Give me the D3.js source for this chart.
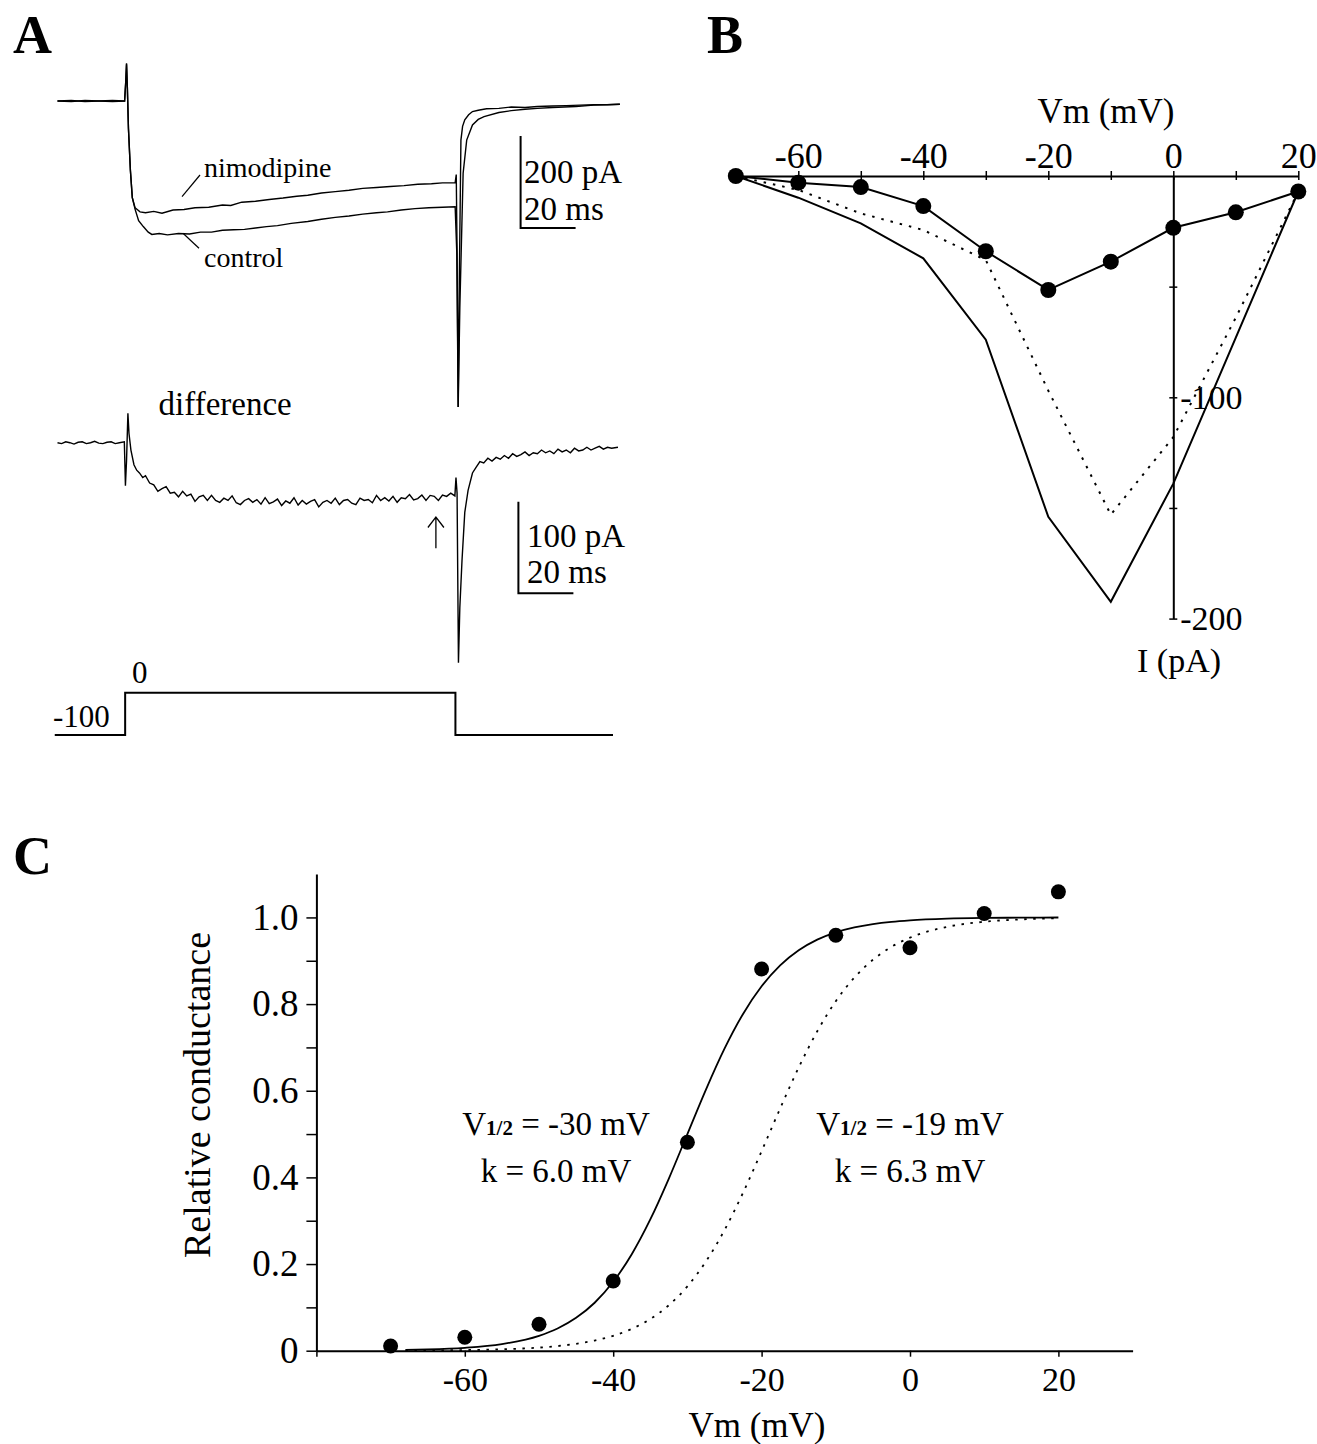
<!DOCTYPE html>
<html>
<head>
<meta charset="utf-8">
<script src="https://cdn.jsdelivr.net/npm/d3@7"></script>
<style>
  body { margin: 0; background: #fff; }
  svg text { font-family: "Liberation Serif", "Times New Roman", serif; fill: #000; }
</style>
</head>
<body>
<svg id="fig" width="1317" height="1444"></svg>
<script>
// ---- panel A : current traces [time ms, current pA] ----
var nimoTrace = [[0,0],[5,1],[10,-1],[15,0],[20,1],[24.4,0],[24.8,40],[25.1,82],[25.4,30],[25.8,-60],[26.5,-150],[27.2,-210],[28.2,-232],[30,-241],[32,-243],[35,-240],[38,-244],[42,-237],[46,-236],[50,-232],[55,-231],[60,-226],[63,-227],[67,-220],[72,-218],[77,-214],[82,-211],[87,-207],[91,-205],[96,-200],[101,-197],[106,-194],[111,-190],[116,-188],[121,-186],[126,-184],[131,-181],[136,-180],[140,-178],[144.6,-178],[145.0,-160],[145.3,-330],[145.7,-665],[146.1,-400],[146.7,-85],[147.3,-55],[148.1,-41],[149.5,-30],[150.9,-23],[153,-20],[156,-17],[160.5,-16],[165,-13],[170,-14],[174.5,-12],[180,-11],[185,-10],[190,-9],[195,-8],[200,-8],[204.5,-7]];

var ctrlTrace = [[0,0],[5,-1],[10,1],[15,0],[20,-1],[24.4,0],[24.8,40],[25.1,80],[25.4,30],[25.8,-60],[26.5,-150],[27.2,-210],[28.2,-235],[29.5,-260],[31.2,-273],[33,-285],[34.3,-290],[37,-288],[40,-291],[44,-288],[48,-289],[52,-285],[56,-285],[60,-281],[64,-280],[68,-279],[72,-276],[76,-273],[80,-271],[85,-266],[91,-262],[96,-257],[101,-253],[106,-250],[111,-246],[116,-243],[120,-241],[125,-237],[130,-234],[135,-232],[140,-231],[144.6,-230],[145.2,-330],[145.7,-665],[146.3,-450],[147.5,-157],[148.8,-85],[150.9,-52],[153,-40],[155.1,-34],[160.5,-25],[165,-21],[170,-18],[174.5,-16],[180,-14],[188.5,-12],[195,-9],[204.5,-7]];

var diffTrace = [[0,0],[1.5,-1],[3,1],[4.5,0],[6,-1.5],[7.5,0.5],[9,1],[10.5,-1],[12,0],[13.5,1.5],[15,-0.5],[16.5,-1],[18,0.5],[19.5,1],[21,-1],[22.5,0],[24.3,1],[24.7,-47],[25.1,-20],[25.6,32],[26.0,10],[26.7,-8],[27.8,-24],[28.8,-30],[29.8,-33],[31,-38],[32,-36],[33.5,-44],[35,-46],[36.5,-53],[38,-50],[39.5,-48],[41,-55],[42.5,-54],[44,-59],[45.5,-53],[47,-58],[48.5,-56],[50,-64],[51.5,-59],[53,-57.5],[54.5,-63],[56,-57.5],[57.5,-63],[59,-65],[60.5,-60.5],[62,-63],[63.5,-58],[65,-65.5],[66.5,-67.5],[68,-63],[69.5,-61],[71,-65],[72.5,-62],[74,-67],[75.5,-60],[77,-66.5],[78.5,-64.5],[80,-61.5],[81.5,-68.5],[83,-63.5],[84.5,-66],[86,-60],[87.5,-68],[89,-63],[90.5,-67],[92,-64],[93.5,-62],[95,-70],[96.5,-65],[98,-63],[99.5,-66],[101,-60.5],[102.5,-67.5],[104,-63],[105.5,-62],[107,-66],[108.5,-67.5],[110,-60.5],[111.5,-63],[113,-62],[114.5,-65.5],[116,-57.5],[117.5,-63],[119,-60],[120.5,-63.5],[122,-58.5],[123.5,-65],[125,-60],[126.5,-61],[128,-56.5],[129.5,-62.5],[131,-61],[132.5,-57],[134,-63],[135.5,-57.5],[137,-58.5],[138.5,-63],[140,-57],[141.5,-58.5],[143,-55],[144.5,-58],[144.9,-38],[145.3,-55],[145.8,-240],[146.3,-180],[147.1,-128],[148.1,-76],[149.3,-52],[150.9,-33],[152.2,-27],[153.6,-20.5],[155,-22],[156.5,-17],[158,-20],[159.5,-16],[161,-18],[162.5,-14],[164,-17],[165.5,-12],[167,-15],[168.5,-13],[170,-10],[171.5,-14],[173,-11],[174.5,-12],[176,-8],[177.5,-11],[179,-9],[180.5,-12],[182,-7],[183.5,-10],[185,-8],[186.5,-11],[188,-6],[189.5,-9],[191,-8],[192.5,-5],[194,-8],[195.5,-6],[197,-4],[198.5,-7],[200,-5],[201.5,-6],[203.8,-5]];

// voltage protocol [time ms, mV]
var protocol = [[-1,-100],[24.6,-100],[24.6,0],[144.7,0],[144.7,-100],[202,-100]];

// ---- panel B : I-V relation ----
var vmB = [-70,-60,-50,-40,-30,-20,-10,0,10,20];
var ivDots = [0,-3,-5,-13.6,-34,-51.5,-38.7,-23.4,-16.4,-7];
var ivSolid = [0,-9.8,-21.4,-37.2,-74,-154,-192.4,-139,-73,-7];
var ivDotted = [0,-6.3,-16.9,-24.4,-38,-97,-153,-118,-64,-7];
var xTicksB = [-70,-60,-50,-40,-30,-20,-10,0,10,20];
var yTicksB = [-50,-100,-150,-200];

// ---- panel C : activation ----
var vmC = [-70,-60,-50,-40,-30,-20,-10,0,10,20];
var gRel = [0.011,0.031,0.061,0.161,0.481,0.881,0.959,0.930,1.009,1.059];
var fitV = [-68,-65,-60,-55,-50,-47.5,-45,-42.5,-40,-37.5,-35,-32.5,-30,-27.5,-25,-22.5,-20,-17.5,-15,-12.5,-10,-7.5,-5,-2.5,0,5,10,15,20];
var fitSolid = [0.0018,0.0029,0.0067,0.0153,0.0344,0.0513,0.0759,0.1107,0.159,0.2227,0.3029,0.3973,0.5,0.6027,0.6971,0.7773,0.841,0.8893,0.9241,0.9487,0.9656,0.977,0.9847,0.9899,0.9933,0.9971,0.9988,0.9995,0.9998];
var fitDotted = [0.0004,0.0007,0.0015,0.0033,0.0072,0.0107,0.0159,0.0234,0.0344,0.0504,0.0731,0.105,0.1486,0.206,0.2784,0.3645,0.4604,0.5592,0.6536,0.7372,0.8067,0.8612,0.9022,0.9321,0.9533,0.9783,0.99,0.9955,0.998];
var xTicksC = [-80,-60,-40,-20,0,20];
var yTicksC = [0,0.1,0.2,0.3,0.4,0.5,0.6,0.7,0.8,0.9,1.0];

var serif = '"Liberation Serif", "Times New Roman", serif';
var svg = d3.select("#fig");
svg.append("rect").attr("width", 1317).attr("height", 1444).attr("fill", "#fff");

// panel letters
[["A", 13, 53], ["B", 707, 53], ["C", 13, 874]].forEach(function(p) {
  svg.append("text").attr("x", p[1]).attr("y", p[2])
    .attr("font-size", 54).attr("font-weight", "bold").text(p[0]);
});

// =========== A ===========
var tx = d3.scaleLinear().domain([0, 205]).range([57.5, 621.25]);
var iTop = d3.scaleLinear().domain([0, -200]).range([101, 193]);
var iDiff = d3.scaleLinear().domain([0, -100]).range([442.7, 534.4]);
var vProt = d3.scaleLinear().domain([-100, 0]).range([735, 692.7]);

var lineTop = d3.line().x(function(d){ return tx(d[0]); }).y(function(d){ return iTop(d[1]); });
var lineDiff = d3.line().x(function(d){ return tx(d[0]); }).y(function(d){ return iDiff(d[1]); });
var lineProt = d3.line().x(function(d){ return tx(d[0]); }).y(function(d){ return vProt(d[1]); });

var gA = svg.append("g");
[ctrlTrace, nimoTrace].forEach(function(tr) {
  gA.append("path").datum(tr).attr("d", lineTop)
    .attr("fill", "none").attr("stroke", "#000").attr("stroke-width", 1.4);
});
gA.append("path").datum(diffTrace).attr("d", lineDiff)
  .attr("fill", "none").attr("stroke", "#000").attr("stroke-width", 1.4);
gA.append("path").datum(protocol).attr("d", lineProt)
  .attr("fill", "none").attr("stroke", "#000").attr("stroke-width", 2);

// labels with leader lines
gA.append("line").attr("x1", 182).attr("y1", 196.7).attr("x2", 200).attr("y2", 175)
  .attr("stroke", "#000").attr("stroke-width", 1.2);
gA.append("line").attr("x1", 183).attr("y1", 233.3).attr("x2", 199).attr("y2", 248.3)
  .attr("stroke", "#000").attr("stroke-width", 1.2);
gA.append("text").attr("x", 204).attr("y", 176.7).attr("font-size", 28).text("nimodipine");
gA.append("text").attr("x", 204).attr("y", 266.7).attr("font-size", 28).text("control");
gA.append("text").attr("x", 158.6).attr("y", 415).attr("font-size", 33).text("difference");

// scale bars
function scaleBar(t0, yScale, i0, di, tx0, ty, label1, ty2, label2) {
  var x0 = tx(t0), y0 = yScale(i0), y1 = yScale(i0 - di), x1 = tx(t0 + 20);
  gA.append("path").attr("d", "M" + x0 + "," + y0 + "V" + y1 + "H" + x1)
    .attr("fill", "none").attr("stroke", "#000").attr("stroke-width", 2);
  gA.append("text").attr("x", tx0).attr("y", ty).attr("font-size", 33).text(label1);
  gA.append("text").attr("x", tx0).attr("y", ty2).attr("font-size", 33).text(label2);
}
scaleBar(168.4, iTop, -76, 200, 524, 183.3, "200 pA", 220, "20 ms");
scaleBar(167.6, iDiff, -64.3, 100, 527, 546.7, "100 pA", 583.3, "20 ms");

// arrow
var ax = tx(137.6);
gA.append("path")
  .attr("d", "M" + ax + ",548.3V517M" + (ax - 8) + ",527.5L" + ax + ",517L" + (ax + 8) + ",527.5")
  .attr("fill", "none").attr("stroke", "#000").attr("stroke-width", 1.3);

gA.append("text").attr("x", 53).attr("y", 726.7).attr("font-size", 31).text("-100");
gA.append("text").attr("x", 132).attr("y", 683).attr("font-size", 31).text("0");

// =========== B ===========
var xB = d3.scaleLinear().domain([-70, 20]).range([735.8, 1298.3]);
var yB = d3.scaleLinear().domain([0, -200]).range([176, 618.6]);
var gB = svg.append("g");

var xAxB = gB.append("g").attr("transform", "translate(0," + yB(0) + ")")
  .call(d3.axisTop(xB).tickValues(xTicksB).tickSizeInner(5).tickSizeOuter(0).tickPadding(3)
    .tickFormat(function(d){ return d % 20 === 0 ? String(d) : ""; }));
xAxB.attr("font-family", serif).attr("font-size", 36);
xAxB.selectAll(".tick line").attr("y1", 4).attr("stroke-width", 1.5);
xAxB.select(".domain").attr("stroke-width", 2);

var yAxB = gB.append("g").attr("transform", "translate(" + xB(0) + ",0)")
  .call(d3.axisRight(yB).tickValues(yTicksB).tickSizeInner(4).tickSizeOuter(0).tickPadding(3)
    .tickFormat(function(d){ return d % 100 === 0 ? String(d) : ""; }));
yAxB.attr("font-family", serif).attr("font-size", 34);
yAxB.selectAll(".tick line").attr("x1", -4).attr("stroke-width", 1.5);
yAxB.select(".domain").attr("stroke-width", 2);

var lineB = d3.line().x(function(d){ return xB(d[0]); }).y(function(d){ return yB(d[1]); });
gB.append("path").datum(d3.zip(vmB, ivSolid)).attr("d", lineB)
  .attr("fill", "none").attr("stroke", "#000").attr("stroke-width", 2);
gB.append("path").datum(d3.zip(vmB, ivDotted)).attr("d", lineB)
  .attr("fill", "none").attr("stroke", "#000").attr("stroke-width", 2).attr("stroke-dasharray", "2.5,7");
gB.append("path").datum(d3.zip(vmB, ivDots)).attr("d", lineB)
  .attr("fill", "none").attr("stroke", "#000").attr("stroke-width", 2);
gB.selectAll("circle.iv").data(d3.zip(vmB, ivDots)).enter().append("circle")
  .attr("class", "iv")
  .attr("cx", function(d){ return xB(d[0]); })
  .attr("cy", function(d){ return yB(d[1]); })
  .attr("r", 8).attr("fill", "#000");

gB.append("text").attr("x", 1106).attr("y", 123).attr("text-anchor", "middle")
  .attr("font-size", 35).text("Vm (mV)");
gB.append("text").attr("x", 1179).attr("y", 672).attr("text-anchor", "middle")
  .attr("font-size", 34).text("I (pA)");

// =========== C ===========
var xC = d3.scaleLinear().domain([-80, 30]).range([316.4, 1132.6]);
var yC = d3.scaleLinear().domain([0, 1.1]).range([1350.7, 874.1]);
var gC = svg.append("g");

var xAxC = gC.append("g").attr("transform", "translate(0," + yC(0) + ")")
  .call(d3.axisBottom(xC).tickValues(xTicksC).tickSizeInner(6).tickSizeOuter(0).tickPadding(10.6)
    .tickFormat(function(d){ return d === -80 ? "" : String(d); }));
xAxC.attr("font-family", serif).attr("font-size", 34);
xAxC.selectAll(".tick line").attr("stroke-width", 1.5);
xAxC.select(".domain").attr("stroke-width", 2);

var yAxC = gC.append("g").attr("transform", "translate(" + xC(-80) + ",0)")
  .call(d3.axisLeft(yC).tickValues(yTicksC).tickSizeInner(10).tickSizeOuter(0).tickPadding(8)
    .tickFormat(function(d, i){ return i % 2 ? "" : (d === 0 ? "0" : d.toFixed(1)); }));
yAxC.attr("font-family", serif).attr("font-size", 37);
yAxC.selectAll(".tick line").attr("stroke-width", 1.5);
yAxC.select(".domain").attr("stroke-width", 2);

var lineC = d3.line().curve(d3.curveMonotoneX)
  .x(function(d){ return xC(d[0]); }).y(function(d){ return yC(d[1]); });
gC.append("path").datum(d3.zip(fitV, fitDotted)).attr("d", lineC)
  .attr("fill", "none").attr("stroke", "#000").attr("stroke-width", 1.8).attr("stroke-dasharray", "2.5,6.5");
gC.append("path").datum(d3.zip(fitV, fitSolid)).attr("d", lineC)
  .attr("fill", "none").attr("stroke", "#000").attr("stroke-width", 1.8);
gC.selectAll("circle.g").data(d3.zip(vmC, gRel)).enter().append("circle")
  .attr("class", "g")
  .attr("cx", function(d){ return xC(d[0]); })
  .attr("cy", function(d){ return yC(d[1]); })
  .attr("r", 7.5).attr("fill", "#000");

gC.append("text").attr("transform", "translate(210,1095) rotate(-90)")
  .attr("text-anchor", "middle").attr("font-size", 38).text("Relative conductance");
gC.append("text").attr("x", 757).attr("y", 1437).attr("text-anchor", "middle")
  .attr("font-size", 35).text("Vm (mV)");

function fitLabel(cx, vh, k) {
  var t1 = gC.append("text").attr("x", cx).attr("y", 1135).attr("text-anchor", "middle").attr("font-size", 33);
  t1.append("tspan").text("V");
  t1.append("tspan").attr("font-size", 21).attr("font-weight", "bold").text("1/2");
  t1.append("tspan").text(" = " + vh + " mV");
  gC.append("text").attr("x", cx).attr("y", 1181.7).attr("text-anchor", "middle").attr("font-size", 33)
    .text("k = " + k + " mV");
}
fitLabel(556, "-30", "6.0");
fitLabel(910, "-19", "6.3");
</script>
</body>
</html>
